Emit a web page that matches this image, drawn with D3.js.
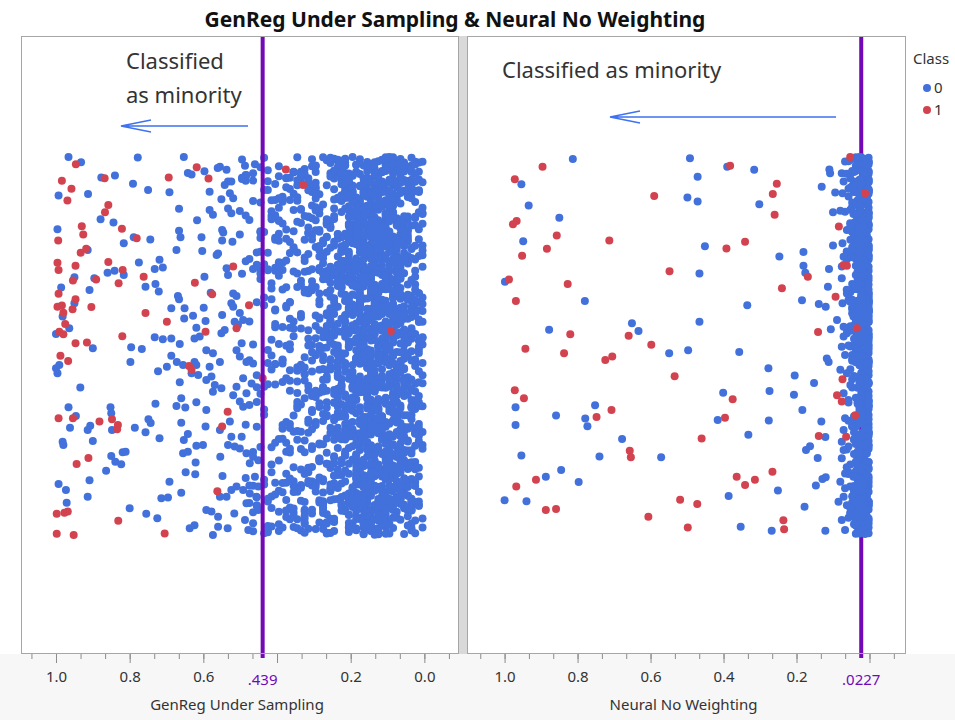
<!DOCTYPE html>
<html>
<head>
<meta charset="utf-8">
<script src="https://cdn.jsdelivr.net/npm/d3@7"></script>
<style>
  body { margin: 0; background: #ffffff; }
  text { font-family: "Noto Sans", "Open Sans", sans-serif; }
</style>
</head>
<body>
<div id="my_dataviz"></div>
<script>
// ---- data ----
var chartTitle = "GenReg Under Sampling & Neural No Weighting"
var leftTitle = "GenReg Under Sampling"
var rightTitle = "Neural No Weighting"
var leftCut = 0.439
var rightCut = 0.0227
var leftCutLabel = ".439"
var rightCutLabel = ".0227"
var majorTicks = [0, 0.2, 0.4, 0.6, 0.8, 1.0]
var classes = ["0", "1"]
var noteLines = ["Classified", "as minority"]

// [predicted value, jitter 0..1]  class 0, sparse part
var leftBlue = [[0.966,1.0],[0.932,0.986],[0.877,0.946],[0.840,0.951],[0.778,0.999],[0.653,1.0],[0.642,0.958],[0.632,0.954],[0.597,0.962],[0.561,0.971],[0.555,0.974],[0.537,0.966],[0.487,0.977],[0.460,0.981],[0.465,0.957],[0.483,0.952],[0.791,0.929],[0.750,0.913],[0.692,0.907],[0.913,0.902],[0.993,0.898],[0.583,0.908],[0.542,0.926],[0.533,0.935],[0.524,0.935],[0.528,0.904],[0.519,0.891],[0.551,0.888],[0.666,0.863],[0.583,0.860],[0.574,0.847],[0.533,0.864],[0.524,0.851],[0.501,0.857],[0.617,0.833],[0.879,0.835],[0.844,0.827],[0.996,0.809],[0.666,0.805],[0.662,0.788],[0.549,0.807],[0.546,0.800],[0.605,0.788],[0.744,0.782],[0.789,0.788],[0.816,0.772],[0.549,0.779],[0.521,0.776],[0.501,0.795],[0.673,0.754],[0.603,0.751],[0.564,0.741],[0.560,0.745],[0.914,0.754],[0.775,0.721],[0.719,0.728],[0.732,0.704],[0.710,0.708],[0.896,0.679],[0.841,0.699],[0.860,0.694],[0.816,0.688],[0.950,0.682],[0.909,0.648],[0.986,0.655],[0.757,0.657],[0.730,0.664],[0.721,0.644],[0.597,0.683],[0.537,0.706],[0.533,0.688],[0.669,0.632],[0.666,0.624],[0.580,0.641],[0.519,0.639],[0.510,0.632],[0.524,0.613],[0.519,0.604],[0.950,0.613],[0.687,0.600],[0.651,0.600],[0.652,0.573],[0.628,0.580],[0.599,0.601],[0.594,0.566],[0.549,0.582],[0.619,0.548],[0.501,0.587],[0.492,0.569],[0.982,0.578],[0.964,0.547],[1.0,0.532],[0.506,0.556],[0.515,0.564],[0.542,0.542],[0.551,0.534],[0.732,0.523],[0.710,0.518],[0.687,0.520],[0.610,0.525],
  [0.900,0.494],[0.796,0.497],[0.767,0.492],[0.798,0.458],[0.664,0.505],[0.723,0.433],[0.699,0.445],[0.687,0.474],[0.672,0.458],[0.655,0.450],[0.624,0.520],[0.624,0.458],[0.619,0.450],[0.632,0.428],[0.614,0.423],[0.592,0.489],[0.574,0.481],[0.555,0.458],[0.583,0.445],[0.578,0.419],[0.569,0.397],[0.574,0.379],[0.551,0.388],[0.592,0.410],[0.510,0.489],[0.501,0.472],[0.483,0.458],[0.465,0.454],[0.496,0.507],[0.492,0.415],[0.510,0.392],[0.469,0.401],[0.483,0.375],[0.501,0.353],[0.492,0.339],[0.519,0.370],[0.664,0.404],[1.0,0.441],[0.991,0.450],[0.996,0.428],[0.934,0.390],[0.966,0.338],[0.946,0.315],[0.962,0.284],[0.914,0.278],[0.907,0.289],[0.982,0.247],[0.980,0.238],[0.900,0.249],[0.852,0.338],[0.850,0.322],[0.848,0.278],[0.786,0.284],[0.757,0.272],[0.749,0.306],[0.743,0.296],[0.730,0.347],[0.719,0.256],[0.673,0.341],[0.660,0.362],[0.649,0.337],[0.619,0.351],[0.592,0.331],[0.660,0.297],[0.594,0.287],[0.642,0.267],[0.653,0.251],[0.619,0.236],[0.601,0.238],[0.655,0.216],[0.642,0.220],[0.621,0.192],[0.648,0.166],[0.622,0.161],[0.555,0.278],[0.528,0.300],[0.524,0.260],[0.533,0.238],[0.515,0.234],[0.496,0.260],[0.501,0.229],[0.554,0.207],[0.548,0.156],[0.483,0.216],[0.465,0.207],[0.474,0.190],[0.451,0.198],[0.460,0.154],[0.850,0.209],[0.839,0.194],[0.823,0.187],[0.819,0.219],[0.811,0.220],[0.864,0.170],[0.909,0.145],[0.914,0.101],[0.993,0.135],[0.973,0.119],[0.971,0.085],[0.692,0.141],[0.660,0.112],[0.714,0.097],[0.696,0.099],[0.800,0.071],[0.755,0.056],[0.725,0.044],[0.637,0.018],[0.624,0.026],[0.592,0.066],[0.578,0.062],[0.560,0.048],[0.574,0.0],[0.560,0.022],[0.534,0.018],[0.516,0.057],[0.524,0.119],[0.510,0.128],[0.492,0.119],[0.537,0.101],[0.555,0.101],[0.474,0.110],[0.483,0.084],[0.487,0.040],[0.478,0.013],[0.465,0.031],[0.451,0.128],[0.456,0.101],[0.451,0.066]]

var leftRed = [[0.946,0.981],[0.984,0.937],[0.958,0.916],[0.969,0.885],[0.868,0.944],[0.694,0.946],[0.618,0.973],[0.586,0.943],[0.858,0.873],[0.867,0.854],[0.930,0.817],[0.926,0.795],[0.821,0.810],[0.994,0.779],[0.781,0.785],[0.918,0.757],[0.933,0.747],[0.996,0.720],[0.993,0.701],[0.947,0.712],[0.858,0.722],[0.819,0.701],[0.954,0.673],[0.891,0.676],[0.830,0.666],[0.762,0.683],[0.623,0.667],[0.519,0.710],[0.993,0.638],[0.947,0.624],[0.996,0.604],[0.984,0.607],[0.980,0.588],[0.955,0.597],[0.904,0.603],[0.757,0.587],[0.699,0.564],[0.576,0.637],[0.476,0.608],[0.510,0.547],[0.975,0.558],[0.991,0.538],[0.980,0.531],[0.820,0.526],[0.594,0.538],[0.947,0.507],[0.916,0.509],[0.988,0.474],[0.967,0.460],[0.639,0.447],[0.632,0.437],[0.439,0.415],[0.993,0.309],[0.954,0.309],[0.882,0.300],[0.848,0.306],[0.832,0.291],[0.834,0.280],[0.912,0.204],[0.944,0.188],[0.534,0.326],[0.549,0.287],[0.562,0.116],[0.998,0.056],[0.977,0.059],[0.968,0.062],[0.831,0.038],[0.998,0.003],[0.952,0.0],[0.705,0.004],[0.376,0.967],[0.329,0.926],[0.091,0.540]]

// class 0 crowd: [value, count] per 0.01 step
var leftBlueBins = [[0.005,26],[0.015,36],[0.025,44],[0.035,50],[0.045,56],[0.055,61],[0.065,67],[0.075,72],[0.085,75],[0.095,78],[0.105,80],[0.115,83],[0.125,86],[0.135,89],[0.145,90],[0.155,88],[0.165,84],[0.175,78],[0.185,72],[0.195,67],[0.205,62],[0.215,57],[0.225,52],[0.235,47],[0.245,42],[0.255,40],[0.265,37],[0.275,35],[0.285,33],[0.295,31],[0.305,29],[0.315,27],[0.325,26],[0.335,25],[0.345,23],[0.355,22],[0.365,21],[0.375,20],[0.385,18],[0.395,18],[0.405,17],[0.415,16],[0.425,14],[0.435,12],[0.445,11],[0.455,10],[0.465,8],[0.475,7],[0.485,6],[0.495,4]]

var rightBlue = [[0.813,0.995],[0.954,0.928],[0.934,0.872],[0.850,0.839],[0.949,0.777],[0.999,0.670],[0.780,0.619],[0.878,0.543],[0.651,0.560],[0.633,0.540],[0.492,0.997],[0.390,0.974],[0.316,0.966],[0.471,0.948],[0.499,0.893],[0.471,0.882],[0.302,0.875],[0.451,0.764],[0.247,0.737],[0.466,0.692],[0.335,0.608],[0.466,0.564],[0.181,0.749],[0.181,0.712],[0.176,0.694],[0.131,0.921],[0.110,0.967],[0.108,0.957],[0.100,0.854],[0.100,0.766],[0.111,0.704],[0.114,0.657],[0.185,0.621],[0.139,0.611],[0.120,0.604],[0.106,0.544],[0.089,0.569],[0.076,0.957],[0.071,0.935],[0.074,0.904],[0.094,0.906],[0.080,0.858],[0.067,0.855],[0.044,0.849],[0.053,0.825],[0.062,0.807],[0.074,0.772],[0.071,0.736],[0.076,0.710],[0.076,0.679],[0.062,0.639],[0.074,0.613],[0.053,0.617],[0.044,0.578],[0.071,0.551],[0.062,0.534],[0.067,0.988],
  [0.549,0.481],[0.497,0.489],[0.970,0.338],[0.970,0.291],[0.859,0.316],[0.752,0.343],[0.779,0.308],[0.773,0.288],[0.678,0.254],[0.954,0.210],[0.740,0.208],[0.571,0.206],[0.887,0.154],[0.845,0.172],[0.797,0.140],[1.0,0.092],[0.940,0.089],
  [0.357,0.484],[0.277,0.441],[0.205,0.422],[0.152,0.402],[0.401,0.376],[0.274,0.381],[0.207,0.371],[0.184,0.331],[0.416,0.304],[0.276,0.303],[0.132,0.300],[0.332,0.265],[0.121,0.259],[0.174,0.225],[0.163,0.235],[0.142,0.204],[0.129,0.148],[0.120,0.153],[0.147,0.131],[0.251,0.118],[0.386,0.103],[0.178,0.075],[0.353,0.022],[0.268,0.011],[0.121,0.011],[0.117,0.467],[0.112,0.458],
  [0.071,0.525],[0.076,0.498],[0.067,0.476],[0.080,0.437],[0.062,0.428],[0.071,0.375],[0.058,0.357],[0.067,0.309],[0.071,0.278],[0.076,0.247],[0.071,0.225],[0.076,0.203],[0.067,0.163],[0.080,0.141],[0.067,0.124],[0.071,0.101],[0.085,0.088],[0.062,0.079],[0.076,0.040],[0.067,0.013],[0.044,0.154],[0.053,0.128]]

var rightRed = [[0.896,0.974],[0.972,0.941],[0.590,0.897],[0.967,0.831],[0.977,0.822],[0.857,0.792],[0.884,0.757],[0.713,0.779],[0.952,0.739],[0.988,0.676],[0.827,0.664],[0.548,0.698],[0.969,0.619],[0.820,0.531],[0.660,0.527],[0.382,0.977],[0.254,0.929],[0.265,0.902],[0.260,0.847],[0.341,0.776],[0.392,0.758],[0.169,0.683],[0.240,0.653],[0.084,0.816],[0.093,0.630],[0.141,0.537],[0.053,1.0],[0.071,0.714],[0.062,0.712],[0.012,0.904],[0.035,0.547],
  [0.943,0.493],[0.837,0.481],[0.724,0.463],[0.705,0.472],[0.598,0.503],[0.534,0.420],[0.972,0.383],[0.947,0.362],[0.707,0.331],[0.748,0.312],[0.657,0.223],[0.654,0.206],[0.914,0.146],[0.968,0.128],[0.887,0.066],[0.859,0.069],[0.519,0.093],[0.606,0.048],[0.498,0.020],
  [0.375,0.359],[0.396,0.310],[0.460,0.255],[0.364,0.154],[0.341,0.132],[0.314,0.146],[0.266,0.167],[0.472,0.082],[0.236,0.039],[0.234,0.015],[0.139,0.262],[0.074,0.412],[0.089,0.370],[0.039,0.317],[0.064,0.260],[0.076,0.353]]

// class 0 wall near zero: [value, count] per 0.005 step
var rightBlueBins = [[0.0025,130],[0.0075,110],[0.0125,95],[0.0175,85],[0.0225,75],[0.0275,65],[0.0325,55],[0.0375,45],[0.0425,35],[0.0475,25],[0.0525,18],[0.0575,12],[0.0625,8]]

// ---- layout ----
var width = 955
    height = 720
    plotTop = 36
    plotBottom = 654
    blue = "#4271dc"
    red = "#d3434f"
    purple = "#7209b7"
    arrowBlue = "#3f72f0"

var svg = d3.select("#my_dataviz")
  .append("svg")
    .attr("width", width)
    .attr("height", height)

svg.append("rect").attr("width", width).attr("height", height).attr("fill", "#ffffff")
svg.append("rect").attr("y", plotBottom).attr("width", width).attr("height", height - plotBottom).attr("fill", "#f7f7f7")

// vertical jitter for the crowded values: a fixed hash of the point index,
// so every run lays the points out the same way. x stays on the read value.
function jitterOf(n) {
  var s = Math.sin(n * 12.9898 + 78.233) * 43758.5453
  return s - Math.floor(s)
}
function spreadBins(bins) {
  var out = [], K = 0
  bins.forEach(function(b) {
    for (var k = 0; k < b[1]; k++) {
      K++
      out.push([b[0], jitterOf(K)])
    }
  })
  return out
}

function drawPanel(opt) {
  var x = d3.scaleLinear().domain(opt.domain).range([opt.x0, opt.x1])
  var y = d3.scaleLinear().domain([0, 1]).range([535, 157])
  var g = svg.append("g")

  g.append("rect")
    .attr("x", opt.x0).attr("y", plotTop)
    .attr("width", opt.x1 - opt.x0).attr("height", plotBottom - plotTop)
    .attr("fill", "#ffffff")

  // minor + major ticks
  var minor = d3.range(-2, 18).map(function(i) { return i / 15 })
    .filter(function(v) { return x(v) > opt.x0 + 2 && x(v) < opt.x1 - 2 })
  g.append("g")
    .attr("transform", "translate(0," + plotBottom + ")")
    .call(d3.axisBottom(x).tickValues(minor).tickSize(5).tickFormat(""))
    .call(function(a) { a.select(".domain").remove(); a.selectAll("line").attr("stroke", "#8c8c8c") })
  g.append("g")
    .attr("transform", "translate(0," + plotBottom + ")")
    .call(d3.axisBottom(x).tickValues(majorTicks).tickSize(9).tickPadding(8)
      .tickFormat(function(d) { return opt.hide.indexOf(d) >= 0 ? "" : d3.format(".1f")(d) }))
    .call(function(a) {
      a.select(".domain").remove()
      a.selectAll("line").attr("stroke", "#8c8c8c")
      a.selectAll("text").attr("font-size", "15px").attr("fill", "#333333")
        .style("font-family", "'Noto Sans', sans-serif")
    })

  // cut-off value label
  g.append("text")
    .attr("x", x(opt.cut)).attr("y", 685)
    .attr("text-anchor", "middle").attr("font-size", "15px").attr("fill", purple)
    .text(opt.cutLabel)

  g.append("text")
    .attr("x", (opt.x0 + opt.x1) / 2 - 3).attr("y", 710)
    .attr("text-anchor", "middle").attr("font-size", "15px").attr("fill", "#333333")
    .text(opt.title)

  var cutLine = function() {
    g.append("line")
      .attr("x1", x(opt.cut)).attr("x2", x(opt.cut))
      .attr("y1", plotTop).attr("y2", plotBottom + 4)
      .attr("stroke", purple).attr("stroke-width", 4)
  }
  if (!opt.lineOnTop) cutLine()

  var pts = g.append("g")
  pts.selectAll(".dense")
    .data(spreadBins(opt.bins)).enter().append("circle")
      .attr("cx", function(d) { return x(d[0]) })
      .attr("cy", function(d) { return y(d[1]) })
      .attr("r", 4).attr("fill", blue)
  pts.selectAll(".b")
    .data(opt.blue).enter().append("circle")
      .attr("cx", function(d) { return x(d[0]) })
      .attr("cy", function(d) { return y(d[1]) })
      .attr("r", 4).attr("fill", blue)
  pts.selectAll(".r")
    .data(opt.red).enter().append("circle")
      .attr("cx", function(d) { return x(d[0]) })
      .attr("cy", function(d) { return y(d[1]) })
      .attr("r", 4).attr("fill", red)

  if (opt.lineOnTop) cutLine()

  g.append("rect")
    .attr("x", opt.x0 + 0.5).attr("y", plotTop + 0.5)
    .attr("width", opt.x1 - opt.x0 - 1).attr("height", plotBottom - plotTop - 1)
    .attr("fill", "none").attr("stroke", "#a6a6a6")
}

drawPanel({ domain: [1.095, -0.094], x0: 21, x1: 459, bins: leftBlueBins, blue: leftBlue, red: leftRed,
  cut: leftCut, cutLabel: leftCutLabel, hide: [0.4], title: leftTitle, lineOnTop: true })
drawPanel({ domain: [1.103, -0.1], x0: 467, x1: 906, bins: rightBlueBins, blue: rightBlue, red: rightRed,
  cut: rightCut, cutLabel: rightCutLabel, hide: [0], title: rightTitle, lineOnTop: false })

// grey gutter between the two panels
svg.append("rect").attr("x", 459).attr("y", plotTop).attr("width", 8).attr("height", plotBottom - plotTop).attr("fill", "#d9d9d9")

// title
svg.append("text")
  .attr("x", 455).attr("y", 27)
  .attr("text-anchor", "middle").attr("font-size", "21px").attr("font-weight", "bold").attr("fill", "#111111")
  .text(chartTitle)

// annotations
svg.append("text").attr("x", 126).attr("y", 69).attr("font-size", "22px").attr("fill", "#333333").text(noteLines[0])
svg.append("text").attr("x", 126).attr("y", 103).attr("font-size", "22px").attr("fill", "#333333").text(noteLines[1])
svg.append("text").attr("x", 502).attr("y", 78).attr("font-size", "22px").attr("fill", "#333333").text(noteLines.join(" "))

function arrow(xa, xb, yy) {
  var p = d3.path()
  p.moveTo(xb, yy); p.lineTo(xa, yy)
  p.moveTo(xa + 30, yy - 6); p.lineTo(xa, yy); p.lineTo(xa + 30, yy + 6)
  svg.append("path").attr("d", p.toString()).attr("fill", "none")
    .attr("stroke", arrowBlue).attr("stroke-width", 1.5)
}
arrow(121, 248, 126)
arrow(610, 836, 117)

// legend
svg.append("text").attr("x", 913).attr("y", 64).attr("font-size", "15px").attr("fill", "#333333").text("Class")
var leg = svg.selectAll(".leg").data(classes).enter().append("g")
  .attr("transform", function(d, i) { return "translate(927," + (88 + i * 22) + ")" })
leg.append("circle").attr("r", 4).attr("fill", function(d, i) { return i ? red : blue })
leg.append("text").attr("x", 7).attr("y", 5).attr("font-size", "15px").attr("fill", "#333333").text(function(d) { return d })
</script>
</body>
</html>
